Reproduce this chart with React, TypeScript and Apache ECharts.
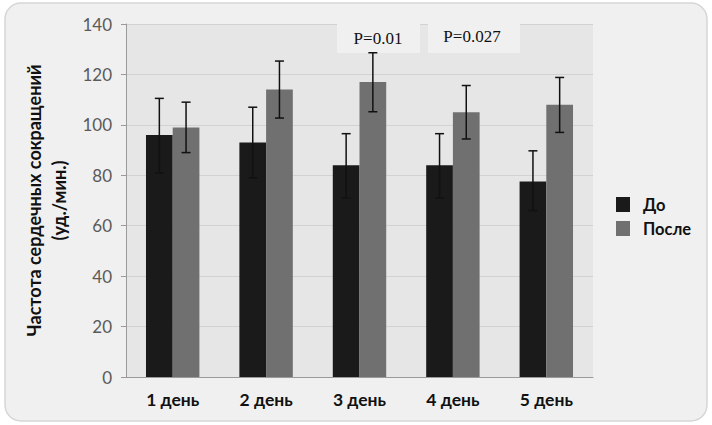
import React, { useEffect, useRef } from "react";
import * as echarts from "echarts";

const categories = ["1 день", "2 день", "3 день", "4 день", "5 день"];
const seriesNames = ["До", "После"];
const beforeValues = [96, 93, 84, 84, 77.5];
const afterValues = [99, 114, 117, 105, 108];
const beforeLow = [81, 79, 71, 71, 66];
const beforeHigh = [110.5, 107, 96.5, 96.5, 89.7];
const afterLow = [89, 102.7, 105.2, 94.4, 97];
const afterHigh = [109, 125.3, 128.6, 115.6, 118.8];
const yTicks = { min: 0, max: 140, interval: 20 };
const pLabels = ["P=0.01", "P=0.027"];

const BAR_FRAC = 0.286;
const SANS = "Lato, 'Open Sans', sans-serif";

export default function App() {
  const ref = useRef<HTMLDivElement>(null);
  useEffect(() => {
    const chart = echarts.init(ref.current!, null, { renderer: "svg" });
    const errSeries = (low: number[], high: number[], sign: number) => ({
      type: "custom",
      z: 10,
      data: categories.map((_, i) => [i, low[i], high[i]]),
      renderItem: (params: any, api: any) => {
        const i = api.value(0);
        const band = api.size([1, 0])[0];
        const off = (sign * band * BAR_FRAC) / 2;
        const lo = api.coord([i, api.value(1)]);
        const hi = api.coord([i, api.value(2)]);
        const x = lo[0] + off;
        const cap = 4.5;
        const st = { stroke: "#111", lineWidth: 1.5 };
        return {
          type: "group",
          children: [
            { type: "line", shape: { x1: x, y1: lo[1], x2: x, y2: hi[1] }, style: st },
            { type: "line", shape: { x1: x - cap, y1: lo[1], x2: x + cap, y2: lo[1] }, style: st },
            { type: "line", shape: { x1: x - cap, y1: hi[1], x2: x + cap, y2: hi[1] }, style: st },
          ],
        };
      },
    });
    chart.setOption({
      animation: false,
      backgroundColor: "#ffffff",
      graphic: [
        {
          type: "rect",
          z: -10,
          shape: { x: 5, y: 3, width: 702, height: 418, r: 16 },
          style: { fill: "#f0f0f0", stroke: "#d6d6d6", lineWidth: 1.5 },
        },
        {
          type: "rect",
          z: 5,
          shape: { x: 337, y: 23, width: 83, height: 30 },
          style: { fill: "#f0f0f0" },
        },
        {
          type: "text",
          z: 6,
          x: 378,
          y: 38,
          style: {
            text: pLabels[0],
            fill: "#111",
            font: "17px 'Liberation Serif', 'DejaVu Serif', serif",
            align: "center",
            verticalAlign: "middle",
          },
        },
        {
          type: "rect",
          z: 5,
          shape: { x: 428, y: 23, width: 92, height: 30 },
          style: { fill: "#f0f0f0" },
        },
        {
          type: "text",
          z: 6,
          x: 472,
          y: 36,
          style: {
            text: pLabels[1],
            fill: "#111",
            font: "17px 'Liberation Serif', 'DejaVu Serif', serif",
            align: "center",
            verticalAlign: "middle",
          },
        },
      ],
      grid: {
        left: 126,
        right: 119,
        top: 24,
        bottom: 48,
        show: true,
        backgroundColor: "#e6e6e6",
        borderWidth: 0,
      },
      legend: {
        data: seriesNames,
        orient: "vertical",
        left: 611,
        top: 191,
        itemWidth: 14,
        itemHeight: 15,
        itemGap: 7,
        icon: "rect",
        textStyle: {
          fontFamily: SANS,
          fontWeight: "bold",
          fontSize: 16.5,
          color: "#111",
          padding: [0, 0, 0, 8],
        },
      },
      xAxis: {
        type: "category",
        data: categories,
        axisLine: { show: true, lineStyle: { color: "#9a9a9a" } },
        axisTick: { show: false },
        axisLabel: {
          fontFamily: SANS,
          fontWeight: "bold",
          fontSize: 17.5,
          color: "#111",
          margin: 13,
        },
      },
      yAxis: {
        type: "value",
        min: yTicks.min,
        max: yTicks.max,
        interval: yTicks.interval,
        name: "Частота сердечных сокращений\n(уд./мин.)",
        nameLocation: "middle",
        nameGap: 45,
        nameTextStyle: {
          fontFamily: SANS,
          fontWeight: "bold",
          fontSize: 18,
          color: "#111",
          lineHeight: 25,
        },
        axisLine: { show: true, lineStyle: { color: "#9a9a9a" } },
        axisTick: { show: true, length: 5, lineStyle: { color: "#9a9a9a" } },
        splitLine: { show: true, lineStyle: { color: "#d2d2d2" } },
        axisLabel: {
          fontFamily: SANS,
          fontSize: 17,
          color: "#5a5a5a",
          margin: 14,
        },
      },
      series: [
        {
          name: seriesNames[0],
          type: "bar",
          data: beforeValues,
          barWidth: BAR_FRAC * 100 + "%",
          barGap: "0%",
          itemStyle: { color: "#1a1a1a" },
        },
        {
          name: seriesNames[1],
          type: "bar",
          data: afterValues,
          barWidth: BAR_FRAC * 100 + "%",
          barGap: "0%",
          itemStyle: { color: "#707070" },
        },
        errSeries(beforeLow, beforeHigh, -1),
        errSeries(afterLow, afterHigh, 1),
      ],
    });
    return () => chart.dispose();
  }, []);
  return (
    <div
      ref={ref}
      style={{ position: "fixed", left: 0, top: 0, width: 712, height: 425 }}
    />
  );
}
